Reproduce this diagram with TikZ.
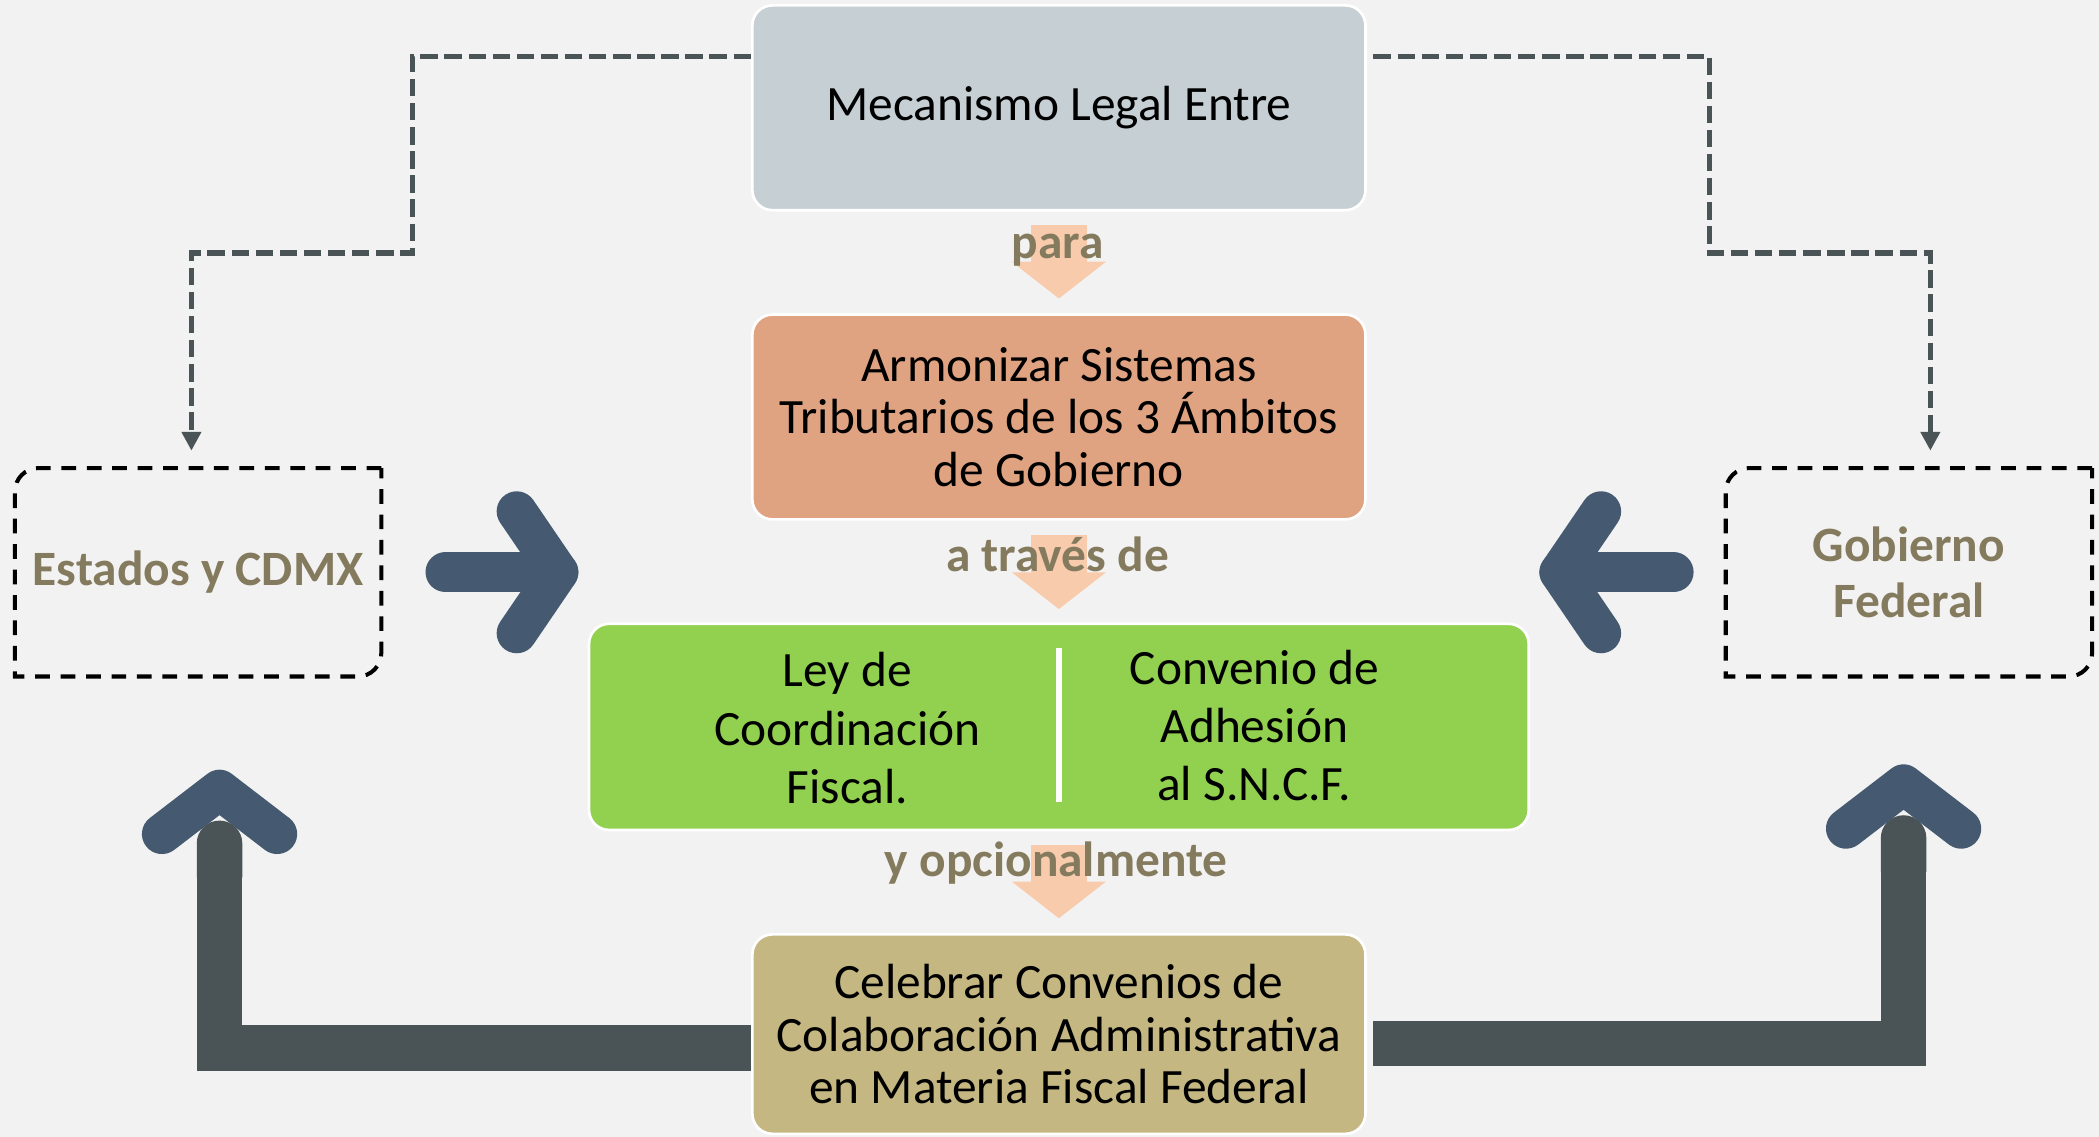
\documentclass[tikz,border=0pt]{standalone}
\usepackage{fontspec}
\setmainfont{Carlito}
\usetikzlibrary{arrows.meta, positioning}

\definecolor{bggray}{HTML}{F2F2F2}
\definecolor{topgray}{HTML}{C5CFD4}
\definecolor{salmon}{HTML}{E0A382}
\definecolor{leafgreen}{HTML}{92D050}
\definecolor{khaki}{HTML}{C4B782}
\definecolor{peach}{HTML}{F8CBAD}
\definecolor{labelbrown}{HTML}{847A5E}
\definecolor{slateblue}{HTML}{455A70}
\definecolor{darkgray}{HTML}{4A5356}

\begin{document}
\begin{tikzpicture}[
    % Define styles
    mainbox/.style={rectangle, rounded corners=0.3cm, draw=white, line width=0.04cm, minimum width=9.16cm, minimum height=3.06cm, text centered, align=center, font=\fontsize{21}{22.2}\selectfont},
    sidetext/.style={align=center, font=\fontsize{21}{24.8}\selectfont},
    govbox/.style={rectangle, minimum width=5.46cm, minimum height=3.1cm, align=center, text=labelbrown, font=\bfseries\fontsize{21}{24}\selectfont},
    outline/.style={draw=black, line width=0.06cm, dash pattern=on 0.22cm off 0.16cm},
    linklabel/.style={anchor=base, text=labelbrown, font=\bfseries\fontsize{21}{24}\selectfont},
    flow/.style={draw=peach, line width=0.84cm, -{Triangle[width=1.38cm, length=0.55cm]}},
    dashlink/.style={draw=darkgray, line width=0.08cm, dash pattern=on 0.26cm off 0.1cm, -{Triangle[width=0.28cm, length=0.28cm]}},
    chevron/.style={draw=slateblue, line width=0.6cm, line cap=round, line join=round},
    bar/.style={draw=darkgray, line width=0.68cm, line join=miter, -{Round Cap[]}}
]

% Canvas
\useasboundingbox (0,0) rectangle (31.36,-16.98);
\fill[bggray] (0,0) rectangle (31.36,-16.98);

% Main boxes
\node[mainbox, fill=topgray] (mecanismo) at (15.82,-1.61) {Mecanismo Legal Entre};
\node[mainbox, fill=salmon] (armonizar) at (15.82,-6.23) {Armonizar Sistemas\\Tributarios de los 3 Ámbitos\\de Gobierno};
\node[mainbox, fill=leafgreen, minimum width=14.04cm, minimum height=3.08cm] (coordinacion) at (15.82,-10.86) {};
\node[sidetext] (ley) at (12.66,-10.88) {Ley de\\Coordinación\\Fiscal.};
\node[sidetext] (convenio) at (18.74,-10.84) {Convenio de\\Adhesión\\al S.N.C.F.};
\node[mainbox, fill=khaki, minimum height=2.98cm] (celebrar) at (15.82,-15.45) {Celebrar Convenios de\\Colaboración Administrativa\\en Materia Fiscal Federal};

% Divider in the green box
\draw[white, line width=0.08cm] ([yshift=-0.38cm]coordinacion.north) -- ([yshift=0.44cm]coordinacion.south);

% Side boxes
\node[govbox] (estados) at (2.96,-8.55) {Estados y CDMX};
\node[govbox] (gobierno) at (28.52,-8.55) {Gobierno\\Federal};

\draw[outline] (estados.north east) -- ([xshift=0.35cm]estados.north west) arc[start angle=90, end angle=180, radius=0.35cm] -- (estados.south west) -- ([xshift=-0.35cm]estados.south east) arc[start angle=270, end angle=360, radius=0.35cm] -- cycle;
\draw[outline] (gobierno.north east) -- ([xshift=0.35cm]gobierno.north west) arc[start angle=90, end angle=180, radius=0.35cm] -- (gobierno.south west) -- ([xshift=-0.35cm]gobierno.south east) arc[start angle=270, end angle=360, radius=0.35cm] -- cycle;

% Flow between the main boxes
\draw[flow] ([yshift=-0.2cm]mecanismo.south) -- ([yshift=0.22cm]armonizar.north);
\draw[flow] ([yshift=-0.22cm]armonizar.south) -- ([yshift=0.2cm]coordinacion.north);
\draw[flow] ([yshift=-0.2cm]coordinacion.south) -- ([yshift=0.22cm]celebrar.north);

\node[linklabel] (para) at (15.80,-3.86) {para};
\node[linklabel] (traves) at (15.80,-8.54) {a través de};
\node[linklabel] (opcional) at (15.78,-13.10) {y opcionalmente};

% Dashed links from the top box
\draw[dashlink] ([yshift=0.77cm]mecanismo.west) -- ++(-5.06,0) -- ++(0,-2.94) -| ([xshift=-0.1cm,yshift=0.26cm]estados.north);
\draw[dashlink] ([xshift=0.1cm,yshift=0.77cm]mecanismo.east) -- ++(5.02,0) -- ++(0,-2.94) -| ([xshift=0.32cm,yshift=0.26cm]gobierno.north);

% Side arrows towards the centre
\coordinate (tipL) at (8.34,-8.55);
\coordinate (tipR) at (23.30,-8.55);
\draw[chevron] ([xshift=0.96cm]estados.east) -- (tipL);
\draw[chevron] ([shift={(-0.62,0.91)}]tipL) -- (tipL) -- ([shift={(-0.62,-0.91)}]tipL);
\draw[chevron] ([xshift=-0.78cm]gobierno.west) -- (tipR);
\draw[chevron] ([shift={(0.62,0.91)}]tipR) -- (tipR) -- ([shift={(0.62,-0.91)}]tipR);

% Return arrows from the bottom box
\coordinate (peakL) at (3.28,-11.80);
\coordinate (peakR) at (28.44,-11.72);
\coordinate (barL) at (3.28,-12.26);
\coordinate (barR) at (28.44,-12.18);
\draw[chevron] ([shift={(-0.86,-0.66)}]peakL) -- (peakL) -- ([shift={(0.86,-0.66)}]peakL);
\draw[chevron] ([shift={(-0.86,-0.66)}]peakR) -- (peakR) -- ([shift={(0.86,-0.66)}]peakR);
\draw[bar] ([yshift=-0.21cm]celebrar.west) -| (barL);
\draw[bar] ([xshift=0.1cm,yshift=-0.14cm]celebrar.east) -| (barR);

\end{tikzpicture}
\end{document}
